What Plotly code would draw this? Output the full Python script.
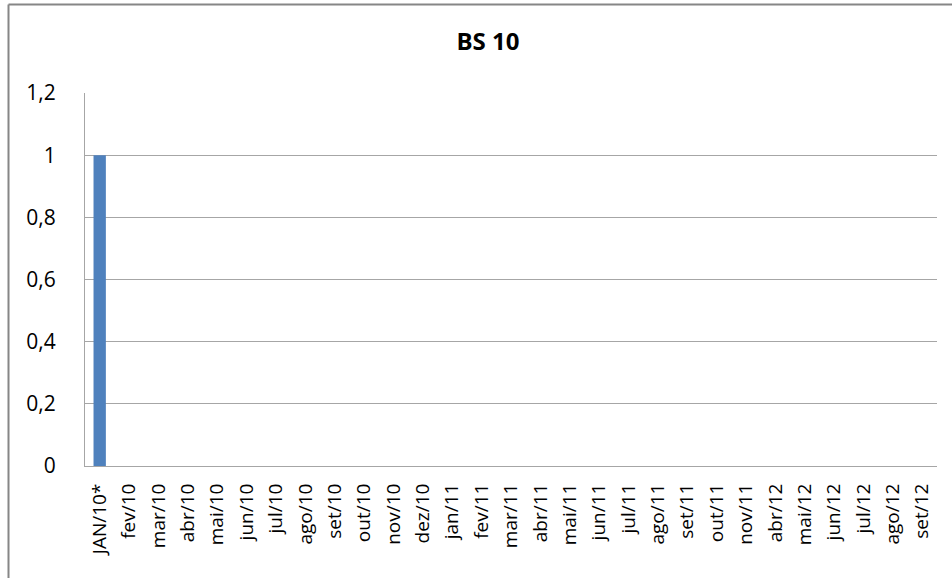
import plotly.graph_objects as go

# ── Data ──────────────────────────────────────────────────────────────────────

CATEGORIES = [
    "JAN/10*", "fev/10", "mar/10", "abr/10", "mai/10", "jun/10", "jul/10", "ago/10", "set/10", "out/10",
    "nov/10", "dez/10", "jan/11", "fev/11", "mar/11", "abr/11", "mai/11", "jun/11", "jul/11", "ago/11",
    "set/11", "out/11", "nov/11", "abr/12", "mai/12", "jun/12", "jul/12", "ago/12", "set/12",
]
VALUES = [1, 0, 0, 0, 0, 0, 0, 0, 0, 0, 0, 0, 0, 0, 0, 0, 0, 0, 0, 0, 0, 0, 0, 0, 0, 0, 0, 0, 0]
Y_TICKS = [0, 0.2, 0.4, 0.6, 0.8, 1.0, 1.2]
Y_TICK_TEXT = ["0", "0,2", "0,4", "0,6", "0,8", "1", "1,2"]
TITLE = "BS 10"

# ── Layout constants ──────────────────────────────────────────────────────────

WIDTH, HEIGHT = 952, 578
MARGIN = {"l": 85, "r": 15, "t": 93, "b": 112}
FONT = "Open Sans, Liberation Sans, sans-serif"
GRID = "#a6a6a6"
BORDER = "#868686"

fig = go.Figure(go.Bar(x=CATEGORIES, y=VALUES, marker_color="#4F81BD", marker_line_width=0, width=0.42))

# outer chart border: only the left and top edges show in the reference (the rest is cropped)
plot_w = WIDTH - MARGIN["l"] - MARGIN["r"]
plot_h = HEIGHT - MARGIN["t"] - MARGIN["b"]
x_left = (8.5 - MARGIN["l"]) / plot_w
y_top = (HEIGHT - 4.5 - MARGIN["b"]) / plot_h
y_bottom = -(MARGIN["b"] + 5) / plot_h
x_right = 1 + (MARGIN["r"] + 5) / plot_w
fig.add_shape(type="line", xref="paper", yref="paper", x0=x_left, x1=x_left, y0=y_bottom, y1=y_top, line={"color": BORDER, "width": 2})
fig.add_shape(type="line", xref="paper", yref="paper", x0=x_left, x1=x_right, y0=y_top, y1=y_top, line={"color": BORDER, "width": 2})

fig.update_layout(
    width=WIDTH,
    height=HEIGHT,
    margin=MARGIN,
    paper_bgcolor="white",
    plot_bgcolor="white",
    showlegend=False,
    bargap=0.58,
    font={"family": FONT, "color": "black"},
    title={"text": f"<b>{TITLE}</b>", "x": 488 / WIDTH, "xanchor": "center", "y": 1 - 42 / HEIGHT, "yanchor": "middle", "font": {"size": 24, "family": FONT}},
)
fig.update_yaxes(
    range=[0, 1.2],
    tickvals=Y_TICKS,
    ticktext=Y_TICK_TEXT,
    showgrid=True,
    gridcolor=GRID,
    gridwidth=1,
    showline=True,
    linecolor=GRID,
    linewidth=1,
    zeroline=False,
    tickfont={"size": 21},
    ticks="",
    ticklabelstandoff=24,
    fixedrange=True,
)
fig.update_xaxes(
    showline=True,
    linecolor=GRID,
    linewidth=1,
    mirror=False,
    tickangle=-90,
    tickfont={"size": 19},
    ticks="",
    ticklabelstandoff=9,
    fixedrange=True,
)

# drop the default body margin so the figure sits at the page origin
fig.write_html("out.html", config={"displayModeBar": False}, post_script="document.body.style.margin = '0';")
